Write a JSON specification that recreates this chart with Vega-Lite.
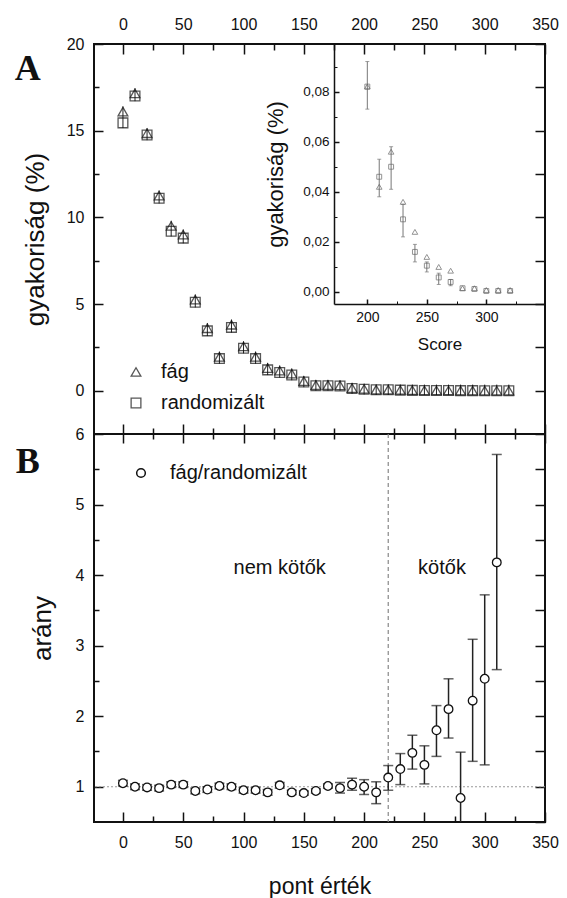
{
  "$schema": "https://vega.github.io/schema/vega-lite/v6.json",
  "padding": {"left": 13, "top": 15, "right": 5, "bottom": 5},
  "spacing": 0,
  "bounds": "flush",
  "config": {
    "font": "Liberation Sans",
    "view": {"stroke": "#111", "strokeWidth": 2},
    "axis": {"domain": false, "grid": false, "labelFont": "Liberation Sans", "labelFontSize": 16, "labelColor": "#111", "tickColor": "#111", "tickWidth": 1.5, "titleFont": "Liberation Sans", "titleFontWeight": "normal", "titleColor": "#111", "labelFlush": false, "labelOverlap": false},
    "legend": {"labelFont": "Liberation Sans", "labelColor": "#111"}
  },
  "datasets": {
    "a": [
      {"x": 0, "s": "fág", "y": 16.1}, {"x": 10, "s": "fág", "y": 17.15}, {"x": 20, "s": "fág", "y": 14.85}, {"x": 30, "s": "fág", "y": 11.25},
      {"x": 40, "s": "fág", "y": 9.5}, {"x": 50, "s": "fág", "y": 9.0}, {"x": 60, "s": "fág", "y": 5.25}, {"x": 70, "s": "fág", "y": 3.6},
      {"x": 80, "s": "fág", "y": 1.95}, {"x": 90, "s": "fág", "y": 3.8}, {"x": 100, "s": "fág", "y": 2.55}, {"x": 110, "s": "fág", "y": 1.95},
      {"x": 120, "s": "fág", "y": 1.3}, {"x": 130, "s": "fág", "y": 1.15}, {"x": 140, "s": "fág", "y": 0.98}, {"x": 150, "s": "fág", "y": 0.55},
      {"x": 160, "s": "fág", "y": 0.32}, {"x": 170, "s": "fág", "y": 0.32}, {"x": 180, "s": "fág", "y": 0.3}, {"x": 190, "s": "fág", "y": 0.15},
      {"x": 200, "s": "fág", "y": 0.1}, {"x": 210, "s": "fág", "y": 0.06}, {"x": 220, "s": "fág", "y": 0.06}, {"x": 230, "s": "fág", "y": 0.04},
      {"x": 240, "s": "fág", "y": 0.03}, {"x": 250, "s": "fág", "y": 0.02}, {"x": 260, "s": "fág", "y": 0.015}, {"x": 270, "s": "fág", "y": 0.01},
      {"x": 280, "s": "fág", "y": 0.005}, {"x": 290, "s": "fág", "y": 0.003}, {"x": 300, "s": "fág", "y": 0.002}, {"x": 310, "s": "fág", "y": 0.001},
      {"x": 320, "s": "fág", "y": 0.001},
      {"x": 0, "s": "randomizált", "y": 15.45}, {"x": 10, "s": "randomizált", "y": 17.0}, {"x": 20, "s": "randomizált", "y": 14.75}, {"x": 30, "s": "randomizált", "y": 11.1},
      {"x": 40, "s": "randomizált", "y": 9.2}, {"x": 50, "s": "randomizált", "y": 8.8}, {"x": 60, "s": "randomizált", "y": 5.1}, {"x": 70, "s": "randomizált", "y": 3.45},
      {"x": 80, "s": "randomizált", "y": 1.85}, {"x": 90, "s": "randomizált", "y": 3.65}, {"x": 100, "s": "randomizált", "y": 2.45}, {"x": 110, "s": "randomizált", "y": 1.85},
      {"x": 120, "s": "randomizált", "y": 1.2}, {"x": 130, "s": "randomizált", "y": 1.05}, {"x": 140, "s": "randomizált", "y": 0.9}, {"x": 150, "s": "randomizált", "y": 0.5},
      {"x": 160, "s": "randomizált", "y": 0.28}, {"x": 170, "s": "randomizált", "y": 0.28}, {"x": 180, "s": "randomizált", "y": 0.27}, {"x": 190, "s": "randomizált", "y": 0.12},
      {"x": 200, "s": "randomizált", "y": 0.08}, {"x": 210, "s": "randomizált", "y": 0.05}, {"x": 220, "s": "randomizált", "y": 0.05}, {"x": 230, "s": "randomizált", "y": 0.03},
      {"x": 240, "s": "randomizált", "y": 0.016}, {"x": 250, "s": "randomizált", "y": 0.01}, {"x": 260, "s": "randomizált", "y": 0.006}, {"x": 270, "s": "randomizált", "y": 0.004},
      {"x": 280, "s": "randomizált", "y": 0.0015}, {"x": 290, "s": "randomizált", "y": 0.0012}, {"x": 300, "s": "randomizált", "y": 0.0004}, {"x": 310, "s": "randomizált", "y": 0.0004},
      {"x": 320, "s": "randomizált", "y": 0.0004}
    ],
    "ae": [
      {"x": 0, "lo": 15.15, "hi": 16.4}, {"x": 10, "lo": 16.7, "hi": 17.45}, {"x": 20, "lo": 14.45, "hi": 15.15}, {"x": 30, "lo": 10.8, "hi": 11.55},
      {"x": 40, "lo": 8.9, "hi": 9.8}, {"x": 50, "lo": 8.5, "hi": 9.3}, {"x": 60, "lo": 4.8, "hi": 5.55}, {"x": 70, "lo": 3.15, "hi": 3.9},
      {"x": 80, "lo": 1.55, "hi": 2.25}, {"x": 90, "lo": 3.35, "hi": 4.1}, {"x": 100, "lo": 2.15, "hi": 2.85}, {"x": 110, "lo": 1.55, "hi": 2.25},
      {"x": 120, "lo": 0.9, "hi": 1.6}, {"x": 130, "lo": 0.75, "hi": 1.45}, {"x": 140, "lo": 0.6, "hi": 1.28}, {"x": 150, "lo": 0.2, "hi": 0.85},
      {"x": 160, "lo": 0.0, "hi": 0.62}, {"x": 170, "lo": 0.0, "hi": 0.62}, {"x": 180, "lo": 0.0, "hi": 0.6}, {"x": 190, "lo": -0.18, "hi": 0.45},
      {"x": 200, "lo": -0.22, "hi": 0.4}, {"x": 210, "lo": -0.25, "hi": 0.35}, {"x": 220, "lo": -0.25, "hi": 0.35}, {"x": 230, "lo": -0.25, "hi": 0.35},
      {"x": 240, "lo": -0.25, "hi": 0.35}, {"x": 250, "lo": -0.25, "hi": 0.35}, {"x": 260, "lo": -0.25, "hi": 0.35}, {"x": 270, "lo": -0.25, "hi": 0.35},
      {"x": 280, "lo": -0.25, "hi": 0.35}, {"x": 290, "lo": -0.25, "hi": 0.35}, {"x": 300, "lo": -0.25, "hi": 0.35}, {"x": 310, "lo": -0.25, "hi": 0.35},
      {"x": 320, "lo": -0.25, "hi": 0.35}
    ],
    "ins": [
      {"x": 200, "s": "fág", "y": 0.082}, {"x": 210, "s": "fág", "y": 0.042}, {"x": 220, "s": "fág", "y": 0.056}, {"x": 230, "s": "fág", "y": 0.036},
      {"x": 240, "s": "fág", "y": 0.024}, {"x": 250, "s": "fág", "y": 0.014}, {"x": 260, "s": "fág", "y": 0.010}, {"x": 270, "s": "fág", "y": 0.0085},
      {"x": 280, "s": "fág", "y": 0.0015}, {"x": 290, "s": "fág", "y": 0.0015}, {"x": 300, "s": "fág", "y": 0.0008}, {"x": 310, "s": "fág", "y": 0.0008},
      {"x": 320, "s": "fág", "y": 0.0008},
      {"x": 200, "s": "randomizált", "y": 0.082}, {"x": 210, "s": "randomizált", "y": 0.046}, {"x": 220, "s": "randomizált", "y": 0.050}, {"x": 230, "s": "randomizált", "y": 0.029},
      {"x": 240, "s": "randomizált", "y": 0.016}, {"x": 250, "s": "randomizált", "y": 0.0105}, {"x": 260, "s": "randomizált", "y": 0.0058}, {"x": 270, "s": "randomizált", "y": 0.004},
      {"x": 280, "s": "randomizált", "y": 0.0015}, {"x": 290, "s": "randomizált", "y": 0.0012}, {"x": 300, "s": "randomizált", "y": 0.0004}, {"x": 310, "s": "randomizált", "y": 0.0004},
      {"x": 320, "s": "randomizált", "y": 0.0004}
    ],
    "ie": [
      {"x": 200, "lo": 0.073, "hi": 0.092}, {"x": 210, "lo": 0.038, "hi": 0.053}, {"x": 220, "lo": 0.041, "hi": 0.058}, {"x": 230, "lo": 0.022, "hi": 0.035},
      {"x": 240, "lo": 0.012, "hi": 0.019}, {"x": 250, "lo": 0.008, "hi": 0.012}, {"x": 260, "lo": 0.003, "hi": 0.0075}, {"x": 270, "lo": 0.0025, "hi": 0.005}
    ],
    "b": [
      {"x": 0, "y": 1.05, "lo": 1.01, "hi": 1.09}, {"x": 10, "y": 1.0, "lo": 0.96, "hi": 1.04}, {"x": 20, "y": 0.99, "lo": 0.95, "hi": 1.03},
      {"x": 30, "y": 0.98, "lo": 0.94, "hi": 1.02}, {"x": 40, "y": 1.03, "lo": 0.99, "hi": 1.07}, {"x": 50, "y": 1.03, "lo": 0.99, "hi": 1.07},
      {"x": 60, "y": 0.94, "lo": 0.9, "hi": 0.98}, {"x": 70, "y": 0.96, "lo": 0.92, "hi": 1.0}, {"x": 80, "y": 1.01, "lo": 0.97, "hi": 1.05},
      {"x": 90, "y": 1.0, "lo": 0.96, "hi": 1.04}, {"x": 100, "y": 0.95, "lo": 0.91, "hi": 0.99}, {"x": 110, "y": 0.95, "lo": 0.91, "hi": 0.99},
      {"x": 120, "y": 0.92, "lo": 0.88, "hi": 0.96}, {"x": 130, "y": 1.02, "lo": 0.98, "hi": 1.06}, {"x": 140, "y": 0.92, "lo": 0.89, "hi": 0.95},
      {"x": 150, "y": 0.91, "lo": 0.88, "hi": 0.94}, {"x": 160, "y": 0.94, "lo": 0.91, "hi": 0.97}, {"x": 170, "y": 1.01, "lo": 0.98, "hi": 1.04},
      {"x": 180, "y": 0.98, "lo": 0.91, "hi": 1.06}, {"x": 190, "y": 1.03, "lo": 0.95, "hi": 1.12}, {"x": 200, "y": 1.0, "lo": 0.89, "hi": 1.1},
      {"x": 210, "y": 0.92, "lo": 0.76, "hi": 1.07}, {"x": 220, "y": 1.13, "lo": 0.95, "hi": 1.3}, {"x": 230, "y": 1.25, "lo": 1.03, "hi": 1.47},
      {"x": 240, "y": 1.48, "lo": 1.25, "hi": 1.73}, {"x": 250, "y": 1.31, "lo": 1.04, "hi": 1.58}, {"x": 260, "y": 1.8, "lo": 1.43, "hi": 2.15},
      {"x": 270, "y": 2.1, "lo": 1.69, "hi": 2.53}, {"x": 280, "y": 0.84, "lo": 0.2, "hi": 1.49}, {"x": 290, "y": 2.22, "lo": 1.36, "hi": 3.09},
      {"x": 300, "y": 2.53, "lo": 1.31, "hi": 3.72}, {"x": 310, "y": 4.18, "lo": 2.66, "hi": 5.71}
    ]
  },
  "vconcat": [
    {
      "width": 451,
      "height": 390,
      "resolve": {"scale": {"x": "independent", "y": "independent", "shape": "independent"}, "axis": {"x": "independent", "y": "independent"}, "legend": {"shape": "independent"}},
      "layer": [
        {
          "resolve": {"axis": {"x": "independent", "y": "independent"}},
          "layer": [
            {
              "data": {"name": "ae"},
              "mark": {"type": "rule", "color": "#222", "strokeWidth": 1},
              "encoding": {
                "x": {"field": "x", "type": "quantitative", "scale": {"domain": [-24, 350], "nice": false, "zero": false}, "axis": null},
                "y": {"field": "lo", "type": "quantitative", "scale": {"domain": [-2.5, 20], "nice": false, "zero": false}, "axis": null},
                "y2": {"field": "hi"}
              }
            },
            {
              "data": {"name": "a"},
              "mark": {"type": "point", "filled": false, "size": 95, "color": "#111", "strokeWidth": 1.3},
              "encoding": {
                "x": {"field": "x", "type": "quantitative",
                      "axis": {"orient": "top", "values": [0, 50, 100, 150, 200, 250, 300, 350], "tickSize": -10, "labelPadding": 22, "title": null}},
                "y": {"field": "y", "type": "quantitative",
                      "axis": {"orient": "left", "values": [0, 5, 10, 15, 20], "tickSize": -9, "labelPadding": 19, "title": "gyakoriság (%)", "titleFontSize": 26, "titlePadding": 18}},
                "shape": {"field": "s", "type": "nominal", "scale": {"domain": ["fág", "randomizált"], "range": ["triangle-up", "square"]},
                          "legend": {"orient": "none", "legendX": 32, "legendY": 318, "title": null, "labelFontSize": 20, "symbolSize": 95, "symbolStrokeWidth": 1.3, "symbolStrokeColor": "#111", "symbolFillColor": "transparent", "labelOffset": 15, "rowPadding": 11, "padding": 0}}
              }
            },
            {
              "data": {"name": "a"},
              "mark": {"type": "point", "opacity": 0},
              "encoding": {
                "x": {"field": "x", "type": "quantitative", "axis": {"orient": "bottom", "values": [0, 50, 100, 150, 200, 250, 300, 350], "tickSize": -10, "labels": false, "title": null, "minExtent": 0, "maxExtent": 0}},
                "y": {"field": "y", "type": "quantitative", "axis": {"orient": "right", "values": [0, 2.5, 5, 7.5, 10, 12.5, 15, 17.5, 20], "tickSize": -10, "labels": false, "title": null, "minExtent": 0, "maxExtent": 0}}
              }
            },
            {
              "data": {"name": "a"},
              "mark": {"type": "point", "opacity": 0},
              "encoding": {
                "x": {"field": "x", "type": "quantitative", "axis": {"orient": "top", "values": [25, 75, 125, 175, 225, 275, 325], "tickSize": -6, "labels": false, "title": null, "minExtent": 0, "maxExtent": 0}},
                "y": {"field": "y", "type": "quantitative", "axis": {"orient": "left", "values": [2.5, 7.5, 12.5, 17.5], "tickSize": -5, "labels": false, "title": null, "minExtent": 0, "maxExtent": 0}}
              }
            },
            {
              "data": {"name": "a"},
              "mark": {"type": "point", "opacity": 0},
              "encoding": {
                "x": {"field": "x", "type": "quantitative", "axis": {"orient": "bottom", "values": [25, 75, 125, 175, 225, 275, 325], "tickSize": -6, "labels": false, "title": null, "minExtent": 0, "maxExtent": 0}},
                "y": {"field": "y", "type": "quantitative", "axis": null}
              }
            },
            {
              "data": {"values": [{}]},
              "mark": {"type": "text", "text": "A", "font": "Liberation Serif", "fontWeight": "bold", "fontSize": 36, "color": "#111", "align": "center", "baseline": "middle"},
              "encoding": {
                "x": {"datum": -79, "type": "quantitative", "axis": null},
                "y": {"datum": 18.56, "type": "quantitative", "axis": null}
              }
            }
          ]
        },
        {
          "resolve": {"axis": {"x": "independent", "y": "independent"}},
          "layer": [
            {
              "data": {"name": "ie"},
              "mark": {"type": "rule", "color": "#777", "strokeWidth": 1},
              "encoding": {
                "x": {"field": "x", "type": "quantitative", "scale": {"domain": [172, 349.3], "range": [240, 451], "nice": false, "zero": false},
                      "axis": {"orient": "bottom", "offset": -130, "values": [225, 275, 325], "tickSize": -3, "tickWidth": 1, "labels": false, "title": null, "minExtent": 0, "maxExtent": 0}},
                "y": {"field": "lo", "type": "quantitative", "scale": {"domain": [-0.0048, 0.099], "range": [260, 0], "nice": false, "zero": false},
                      "axis": {"orient": "left", "offset": -240, "values": [0.01, 0.03, 0.05, 0.07, 0.09], "tickSize": -3, "tickWidth": 1, "labels": false, "title": null, "minExtent": 0, "maxExtent": 0}},
                "y2": {"field": "hi"}
              }
            },
            {
              "data": {"name": "ie"},
              "mark": {"type": "tick", "orient": "horizontal", "size": 4, "thickness": 1, "color": "#777"},
              "encoding": {
                "x": {"field": "x", "type": "quantitative", "axis": null},
                "y": {"field": "lo", "type": "quantitative", "axis": null}
              }
            },
            {
              "data": {"name": "ie"},
              "mark": {"type": "tick", "orient": "horizontal", "size": 4, "thickness": 1, "color": "#777"},
              "encoding": {
                "x": {"field": "x", "type": "quantitative", "axis": null},
                "y": {"field": "hi", "type": "quantitative", "axis": null}
              }
            },
            {
              "data": {"name": "ins"},
              "transform": [{"filter": "datum.s === 'fág'"}],
              "mark": {"type": "point", "shape": "triangle-up", "filled": false, "size": 32, "color": "#666", "strokeWidth": 1},
              "encoding": {
                "x": {"field": "x", "type": "quantitative",
                      "axis": {"orient": "bottom", "offset": -130, "values": [200, 250, 300], "tickSize": -5, "labelPadding": 11, "labelFontSize": 14, "domain": true, "domainColor": "#111", "domainWidth": 1.5, "title": "Score", "titleFontSize": 17, "titlePadding": 12}},
                "y": {"field": "y", "type": "quantitative",
                      "axis": {"orient": "left", "offset": -240, "values": [0, 0.02, 0.04, 0.06, 0.08], "labelExpr": "replace(format(datum.value, '.2f'), '.', ',')", "tickSize": -5, "labelPadding": 10, "labelFontSize": 13.5, "domain": true, "domainColor": "#111", "domainWidth": 1.5, "title": "gyakoriság (%)", "titleFontSize": 22, "titlePadding": 15, "titleY": 130}}
              }
            },
            {
              "data": {"name": "ins"},
              "transform": [{"filter": "datum.s === 'randomizált'"}],
              "mark": {"type": "point", "shape": "square", "filled": false, "size": 24, "color": "#666", "strokeWidth": 1},
              "encoding": {
                "x": {"field": "x", "type": "quantitative", "axis": null},
                "y": {"field": "y", "type": "quantitative", "axis": null}
              }
            }
          ]
        }
      ]
    },
    {
      "width": 451,
      "height": 388,
      "resolve": {"axis": {"x": "independent", "y": "independent"}},
      "layer": [
        {
          "data": {"values": [{}]},
          "mark": {"type": "rule", "color": "#999", "strokeDash": [2, 2], "strokeWidth": 1.2},
          "encoding": {
            "y": {"datum": 1, "type": "quantitative", "scale": {"domain": [0.5, 6], "nice": false, "zero": false},
                  "axis": {"orient": "left", "values": [1.5, 2.5, 3.5, 4.5, 5.5], "tickSize": -5, "labels": false, "title": null, "minExtent": 0, "maxExtent": 0}}
          }
        },
        {
          "data": {"values": [{}]},
          "mark": {"type": "rule", "color": "#888", "strokeDash": [4, 3], "strokeWidth": 1.2},
          "encoding": {
            "x": {"datum": 220, "type": "quantitative", "scale": {"domain": [-24, 350], "nice": false, "zero": false},
                  "axis": {"orient": "top", "values": [25, 75, 125, 175, 225, 275, 325], "tickSize": -5, "labels": false, "title": null, "minExtent": 0, "maxExtent": 0}}
          }
        },
        {
          "data": {"name": "b"},
          "mark": {"type": "rule", "color": "#222", "strokeWidth": 1.5, "clip": true},
          "encoding": {
            "x": {"field": "x", "type": "quantitative", "axis": {"orient": "top", "values": [0, 50, 100, 150, 200, 250, 300, 350], "tickSize": -9, "labels": false, "title": null, "minExtent": 0, "maxExtent": 0}},
            "y": {"field": "lo", "type": "quantitative", "axis": {"orient": "right", "values": [0.5, 1, 1.5, 2, 2.5, 3, 3.5, 4, 4.5, 5, 5.5, 6], "tickSize": -10, "labels": false, "title": null, "minExtent": 0, "maxExtent": 0}},
            "y2": {"field": "hi"}
          }
        },
        {
          "data": {"name": "b"},
          "mark": {"type": "tick", "orient": "horizontal", "size": 10, "thickness": 1.5, "color": "#222", "clip": true},
          "encoding": {
            "x": {"field": "x", "type": "quantitative", "axis": null},
            "y": {"field": "lo", "type": "quantitative", "axis": null}
          }
        },
        {
          "data": {"name": "b"},
          "mark": {"type": "tick", "orient": "horizontal", "size": 10, "thickness": 1.5, "color": "#222"},
          "encoding": {
            "x": {"field": "x", "type": "quantitative", "axis": null},
            "y": {"field": "hi", "type": "quantitative", "axis": null}
          }
        },
        {
          "data": {"name": "b"},
          "mark": {"type": "point", "filled": true, "fill": "white", "stroke": "#111", "strokeWidth": 1.3, "size": 75, "opacity": 1},
          "encoding": {
            "x": {"field": "x", "type": "quantitative",
                  "axis": {"orient": "bottom", "values": [0, 50, 100, 150, 200, 250, 300, 350], "tickSize": -10, "labelPadding": 22, "title": "pont érték", "titleFontSize": 23, "titlePadding": 25}},
            "y": {"field": "y", "type": "quantitative",
                  "axis": {"orient": "left", "values": [1, 2, 3, 4, 5, 6], "tickSize": -9, "labelPadding": 19, "title": "arány", "titleFontSize": 26, "titlePadding": 20}},
            "shape": {"datum": "fág/randomizált", "type": "nominal", "scale": {"range": ["circle"]},
                      "legend": {"orient": "none", "legendX": 37, "legendY": 419, "title": null, "labelFontSize": 20, "symbolSize": 75, "labelOffset": 19, "padding": 0,
                                 "encode": {"symbols": {"update": {"stroke": {"value": "#111"}, "strokeWidth": {"value": 1.3}, "fill": {"value": "white"}, "opacity": {"value": 1}}}}}}
          }
        },
        {
          "data": {"name": "b"},
          "mark": {"type": "point", "opacity": 0},
          "encoding": {
            "x": {"field": "x", "type": "quantitative", "axis": {"orient": "bottom", "values": [25, 75, 125, 175, 225, 275, 325], "tickSize": -6, "labels": false, "title": null, "minExtent": 0, "maxExtent": 0}},
            "y": {"field": "y", "type": "quantitative", "axis": null}
          }
        },
        {
          "data": {"values": [{}]},
          "mark": {"type": "text", "text": "nem kötők", "fontSize": 20, "color": "#111", "align": "center", "baseline": "middle"},
          "encoding": {
            "x": {"datum": 130, "type": "quantitative", "axis": null},
            "y": {"datum": 4.1, "type": "quantitative", "axis": null}
          }
        },
        {
          "data": {"values": [{}]},
          "mark": {"type": "text", "text": "kötők", "fontSize": 20, "color": "#111", "align": "center", "baseline": "middle"},
          "encoding": {
            "x": {"datum": 264.6, "type": "quantitative", "axis": null},
            "y": {"datum": 4.1, "type": "quantitative", "axis": null}
          }
        },
        {
          "data": {"values": [{}]},
          "mark": {"type": "text", "text": "B", "font": "Liberation Serif", "fontWeight": "bold", "fontSize": 36, "color": "#111", "align": "center", "baseline": "middle"},
          "encoding": {
            "x": {"datum": -79, "type": "quantitative", "axis": null},
            "y": {"datum": 5.61, "type": "quantitative", "axis": null}
          }
        }
      ]
    }
  ]
}
